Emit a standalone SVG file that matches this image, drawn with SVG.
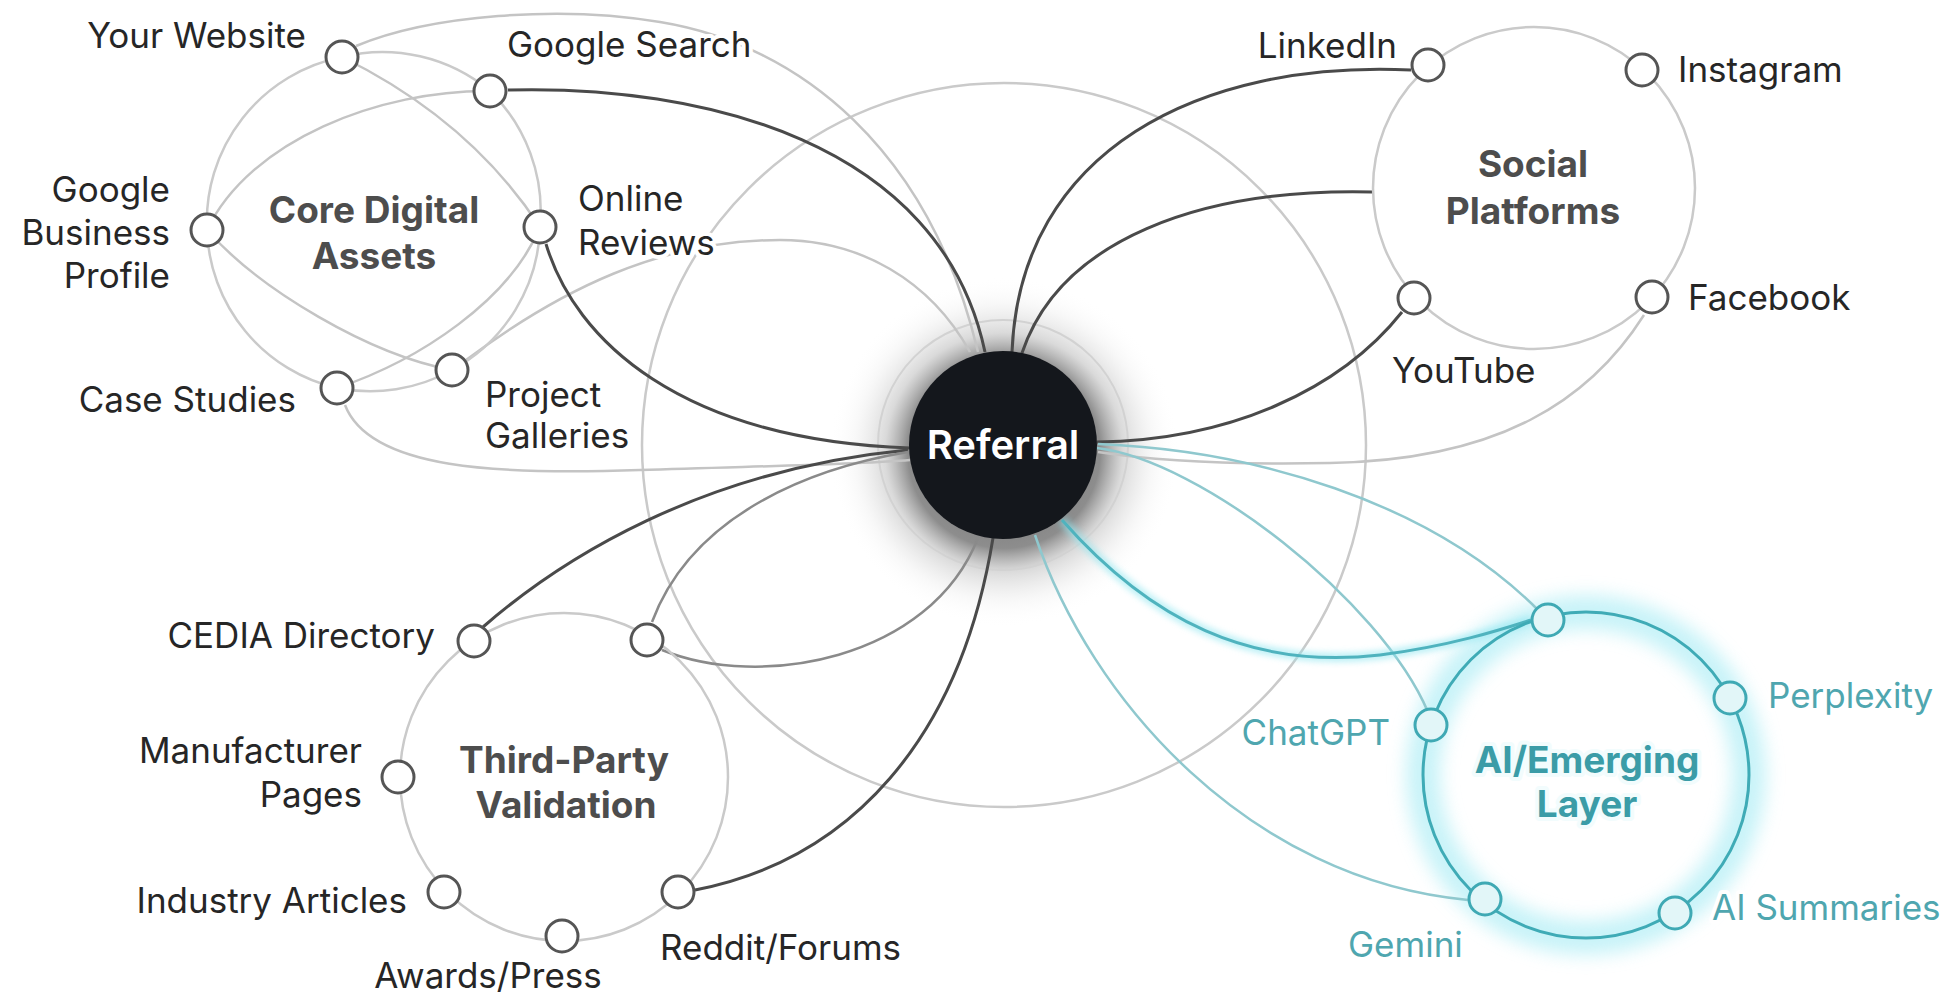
<svg xmlns="http://www.w3.org/2000/svg" width="1954" height="1003" viewBox="0 0 1954 1003">
<defs>
<style>
.lbl{font-family:Inter,"Noto Sans","Liberation Sans",sans-serif;font-size:35px;fill:#262626;stroke:#fff;stroke-width:8;stroke-linejoin:round;paint-order:stroke}
.ttl{font-family:Inter,"Noto Sans","Liberation Sans",sans-serif;font-size:37px;font-weight:700;fill:#4d4d4d;stroke:#fff;stroke-width:8;stroke-linejoin:round;paint-order:stroke;text-anchor:middle}
.ai{fill:#4fa6af}
.aittl{fill:#3b9ca7;stroke:#f2fcfd}
.end{text-anchor:end}
.mid{text-anchor:middle}
.ring{fill:none;stroke:#cacaca;stroke-width:2.5}
.dark{fill:none;stroke:#4a4a4a;stroke-width:3}
.med{fill:none;stroke:#8a8a8a;stroke-width:2.5}
.light{fill:none;stroke:#c4c4c4;stroke-width:2.5}
.teal{fill:none;stroke:#4fb3be;stroke-width:3}
.tealL{fill:none;stroke:#8fc8ce;stroke-width:2.5}
.node{fill:#fff;stroke:#555;stroke-width:3}
.ainode{fill:#e2f6f8;stroke:#3fa9b4;stroke-width:3}
</style>
<radialGradient id="shadow" cx="0.5" cy="0.5" r="0.5">
<stop offset="0" stop-color="#000" stop-opacity="0.6"/>
<stop offset="0.55" stop-color="#1b1b1b" stop-opacity="0.5"/>
<stop offset="0.68" stop-color="#555" stop-opacity="0.22"/>
<stop offset="0.85" stop-color="#999" stop-opacity="0.07"/>
<stop offset="1" stop-color="#fff" stop-opacity="0"/>
</radialGradient>
<filter id="blur8" x="-50%" y="-50%" width="200%" height="200%"><feGaussianBlur stdDeviation="9"/></filter>
<filter id="blur3" x="-20%" y="-20%" width="140%" height="140%"><feGaussianBlur stdDeviation="3"/></filter>
</defs>
<rect width="1954" height="1003" fill="#fff"/>

<g id="referral-halo">
<circle cx="1004" cy="452" r="175" fill="url(#shadow)"/>
<circle cx="1003" cy="445" r="125" fill="none" stroke="#d2d2d2" stroke-width="2"/>
</g>

<g id="outer-ring">
<circle cx="1004" cy="445" r="362" class="ring"/>
</g>

<g id="ai-glow">
<circle cx="1586" cy="775" r="163" fill="none" stroke="#9be9f3" stroke-width="34" opacity="0.55" filter="url(#blur8)"/>
</g>

<g id="connectors">
<!-- core digital chords -->
<path class="light" d="M342,57 Q470,120 540,227"/>
<path class="light" d="M207,230 C250,140 380,90 490,91"/>
<path class="light" d="M207,230 C260,290 370,355 452,370"/>
<path class="light" d="M540,227 C510,300 420,360 337,388"/>
<!-- light long arcs to referral -->
<path class="light" d="M356,46 C430,15 560,5 660,22 C800,45 930,150 978,352"/>
<path class="light" d="M466,360 C560,290 660,240 780,240 C860,240 930,280 970,352"/>
<path class="light" d="M345,405 C370,470 500,475 640,470 C760,466 850,465 910,460"/>
<path class="light" d="M1644,315 C1590,400 1500,460 1330,463 C1230,465 1150,460 1098,452"/>
<!-- dark connectors -->
<path class="dark" d="M508,90 C700,85 940,140 985,352"/>
<path class="dark" d="M546,244 C575,340 680,440 910,448"/>
<path class="dark" d="M1411,70 C1200,60 1020,150 1012,352"/>
<path class="dark" d="M1372,192 C1200,188 1060,240 1022,353"/>
<path class="dark" d="M1402,312 C1340,390 1230,440 1097,442"/>
<path class="dark" d="M483,627 C560,560 700,470 908,450"/>
<path class="dark" d="M695,890 C850,860 960,740 993,538"/>
<!-- medium connectors -->
<path class="med" d="M908,452 C800,470 690,520 652,622"/>
<path class="med" d="M662,650 C760,690 930,660 978,538"/>
<!-- teal connectors -->
<path class="tealL" d="M1098,444 C1250,450 1430,500 1540,612"/>
<path class="tealL" d="M1097,448 C1200,460 1380,600 1428,712" stroke="#72bcc5"/>
<path fill="none" stroke="#8fe6f0" stroke-width="9" opacity="0.6" filter="url(#blur3)" d="M1062,520 C1150,620 1250,670 1380,655 C1450,646 1500,630 1531,620"/>
<path class="teal" d="M1062,520 C1150,620 1250,670 1380,655 C1450,646 1500,630 1531,620"/>
<path class="tealL" d="M1035,535 C1090,700 1250,880 1468,900"/>
</g>

<g id="core-digital-assets">
<path class="ring" d="M342,57 A168 168 0 0 1 490,91 A168 168 0 0 1 540,227 A168 168 0 0 1 452,370 A168 168 0 0 1 337,388 A168 168 0 0 1 207,230 A168 168 0 0 1 342,57 Z"/>
<text class="ttl" x="374" y="223">Core Digital</text>
<text class="ttl" x="374" y="269">Assets</text>
</g>

<g id="social-platforms">
<circle cx="1534" cy="188" r="161" class="ring"/>
<text class="ttl" x="1533" y="177">Social</text>
<text class="ttl" x="1533" y="224">Platforms</text>
</g>

<g id="third-party-validation">
<circle cx="564" cy="777" r="164" class="ring"/>
<text class="ttl" x="564" y="773">Third-Party</text>
<text class="ttl" x="566" y="818">Validation</text>
</g>

<g id="ai-emerging-layer">
<circle cx="1586" cy="775" r="163" fill="none" stroke="#3fabb6" stroke-width="3"/>
<text class="ttl aittl" x="1587" y="773">AI/Emerging</text>
<text class="ttl aittl" x="1587" y="817">Layer</text>
</g>

<g id="node-your-website"><circle class="node" cx="342" cy="57" r="16"/><text class="lbl end" x="306" y="48">Your Website</text></g>
<g id="node-google-search"><circle class="node" cx="490" cy="91" r="16"/><text class="lbl" x="507" y="57">Google Search</text></g>
<g id="node-google-business-profile"><circle class="node" cx="207" cy="230" r="16"/><text class="lbl end" x="170" y="202">Google</text><text class="lbl end" x="170" y="245">Business</text><text class="lbl end" x="170" y="288">Profile</text></g>
<g id="node-online-reviews"><circle class="node" cx="540" cy="227" r="16"/><text class="lbl" x="578" y="211">Online</text><text class="lbl" x="578" y="255">Reviews</text></g>
<g id="node-case-studies"><circle class="node" cx="337" cy="388" r="16"/><text class="lbl end" x="296" y="412">Case Studies</text></g>
<g id="node-project-galleries"><circle class="node" cx="452" cy="370" r="16"/><text class="lbl" x="485" y="407">Project</text><text class="lbl" x="485" y="448">Galleries</text></g>

<g id="node-linkedin"><circle class="node" cx="1428" cy="65" r="16"/><text class="lbl end" x="1397" y="58">LinkedIn</text></g>
<g id="node-instagram"><circle class="node" cx="1642" cy="70" r="16"/><text class="lbl" x="1678" y="82">Instagram</text></g>
<g id="node-youtube"><circle class="node" cx="1414" cy="298" r="16"/><text class="lbl" x="1392" y="383">YouTube</text></g>
<g id="node-facebook"><circle class="node" cx="1652" cy="297" r="16"/><text class="lbl" x="1688" y="310">Facebook</text></g>

<g id="node-cedia-directory"><circle class="node" cx="474" cy="641" r="16"/><text class="lbl end" x="435" y="648">CEDIA Directory</text></g>
<g id="node-third-party-extra"><circle class="node" cx="647" cy="640" r="16"/></g>
<g id="node-manufacturer-pages"><circle class="node" cx="398" cy="777" r="16"/><text class="lbl end" x="362" y="763">Manufacturer</text><text class="lbl end" x="362" y="807">Pages</text></g>
<g id="node-industry-articles"><circle class="node" cx="444" cy="892" r="16"/><text class="lbl end" x="407" y="913">Industry Articles</text></g>
<g id="node-awards-press"><circle class="node" cx="562" cy="936" r="16"/><text class="lbl mid" x="488" y="988">Awards/Press</text></g>
<g id="node-reddit-forums"><circle class="node" cx="678" cy="892" r="16"/><text class="lbl" x="660" y="960">Reddit/Forums</text></g>

<g id="node-ai-extra"><circle class="ainode" cx="1548" cy="620" r="16"/></g>
<g id="node-perplexity"><circle class="ainode" cx="1730" cy="698" r="16"/><text class="lbl ai" x="1768" y="708">Perplexity</text></g>
<g id="node-chatgpt"><circle class="ainode" cx="1431" cy="725" r="16"/><text class="lbl ai end" x="1390" y="745">ChatGPT</text></g>
<g id="node-gemini"><circle class="ainode" cx="1485" cy="899" r="16"/><text class="lbl ai" x="1348" y="957">Gemini</text></g>
<g id="node-ai-summaries"><circle class="ainode" cx="1675" cy="913" r="16"/><text class="lbl ai" x="1712" y="920">AI Summaries</text></g>

<g id="node-referral">
<circle cx="1003" cy="445" r="94" fill="#14171c"/>
<text x="1003" y="459" text-anchor="middle" font-family="Inter,'Noto Sans','Liberation Sans',sans-serif" font-size="40" font-weight="600" fill="#fff">Referral</text>
</g>
</svg>
